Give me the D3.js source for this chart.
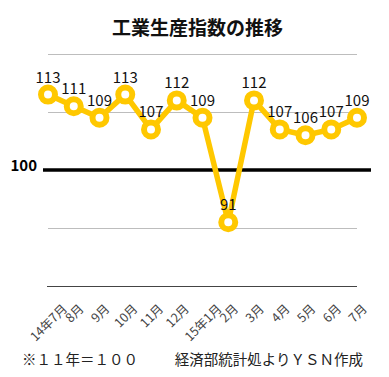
<!DOCTYPE html>
<html><head><meta charset="utf-8">
<script src="https://cdn.jsdelivr.net/npm/d3@7"></script>
<style>
html,body{margin:0;padding:0;background:#fff;}
svg{display:block;}
text{font-family:"Noto Sans CJK JP","Noto Sans",sans-serif;}
</style></head>
<body>
<svg id="chart" width="389" height="377"></svg>
<script>
const categories = ["14年7月","8月","9月","10月","11月","12月","15年1月","2月","3月","4月","5月","6月","7月"];
const values = [113,111,109,113,107,112,109,91,112,107,106,107,109];
const gridTicks = [80,90,110,120];
const baseValue = 100;
const title = "工業生産指数の推移";
const noteLeft = "※１１年＝１００";
const noteRight = "経済部統計処よりＹＳＮ作成";

const svg = d3.select("#chart");
const W = 389, H = 377;
svg.append("rect").attr("width",W).attr("height",H).attr("fill","#fff");

const x = d3.scalePoint().domain(categories).range([48,357]);
const y = d3.scaleLinear().domain([80,120]).range([286,54]);

svg.append("text").attr("x",197.5).attr("y",35).attr("text-anchor","middle")
  .attr("font-size",19).attr("font-weight",700).attr("fill","#111").text(title);

// grid
svg.append("g").selectAll("line").data(gridTicks.filter(d=>d!==80)).join("line")
  .attr("x1",48).attr("x2",357).attr("y1",d=>y(d)).attr("y2",d=>y(d))
  .attr("stroke","#bdbdbd").attr("stroke-width",1).attr("shape-rendering","crispEdges");
// bottom axis
svg.append("line").attr("x1",47).attr("x2",357).attr("y1",y(80)).attr("y2",y(80))
  .attr("stroke","#444").attr("stroke-width",1).attr("shape-rendering","crispEdges");
// 100 line
svg.append("line").attr("x1",43).attr("x2",371).attr("y1",y(baseValue)).attr("y2",y(baseValue))
  .attr("stroke","#000").attr("stroke-width",3.5);
svg.append("text").attr("x",37).attr("y",y(baseValue)+1).attr("text-anchor","end")
  .attr("font-size",15).attr("font-weight",700).attr("fill","#000").text(String(baseValue));

const col = "#FFC800";
const line = d3.line().x((d,i)=>x(categories[i])).y(d=>y(d));
svg.append("path").datum(values).attr("d",line).attr("fill","none")
  .attr("stroke",col).attr("stroke-width",5.5).attr("stroke-linejoin","round");
svg.append("g").selectAll("circle").data(values).join("circle")
  .attr("cx",(d,i)=>x(categories[i])).attr("cy",d=>y(d)).attr("r",7)
  .attr("fill","#fff").attr("stroke",col).attr("stroke-width",6);
svg.append("g").selectAll("text").data(values).join("text")
  .attr("x",(d,i)=>x(categories[i])).attr("y",d=>y(d)-12)
  .attr("text-anchor","middle").attr("font-size",15).attr("fill","#111")
  .text(d=>d);

// x labels rotated
const svgRect = svg.node().getBoundingClientRect();
const xl = svg.append("g");
categories.forEach(c=>{
  const outer = xl.append("g");
  const inner = outer.append("g").attr("transform","rotate(-45)");
  inner.append("text").attr("text-anchor","end").attr("font-size",12.5).attr("fill","#444").text(c);
  const r = inner.node().getBoundingClientRect();
  const cx = (r.left + r.right)/2 - svgRect.left;
  const top = r.top - svgRect.top;
  outer.attr("transform",`translate(${x(c)-cx},${299-top})`);
});

svg.append("text").attr("x",22).attr("y",365).attr("font-size",14.5).attr("fill","#222").text(noteLeft);
svg.append("text").attr("x",363).attr("y",365).attr("text-anchor","end").attr("font-size",14.5).attr("fill","#222").text(noteRight);
</script>
</body></html>
